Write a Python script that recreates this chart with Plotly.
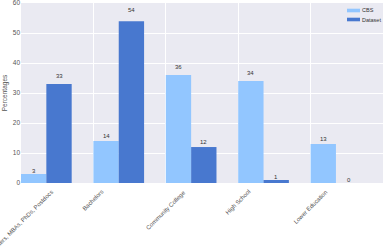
import plotly.graph_objects as go
import numpy as np

categories = ["Masters, MBAs, PhDs, Postdocs", "Bachelors", "Community College", "High School", "Lower Education"]
cbs = [3, 14, 36, 34, 13]
dataset = [33, 54, 12, 1, 0]
y_ticks = [0, 10, 20, 30, 40, 50, 60]
series_names = ["CBS", "Dataset"]
series_colors = ["#92C6FF", "#4878CF"]

x = np.arange(len(categories))
w = 0.35
font = "Liberation Sans, Arial, sans-serif"

fig = go.Figure()
fig.add_trace(go.Bar(x=x, y=cbs, width=w, offset=0, name=series_names[0],
                     marker=dict(color=series_colors[0], line=dict(width=0))))
fig.add_trace(go.Bar(x=x, y=dataset, width=w, offset=w, name=series_names[1],
                     marker=dict(color=series_colors[1], line=dict(width=0))))

for k, vals in enumerate([cbs, dataset]):
    for xi, v in zip(x, vals):
        fig.add_annotation(x=xi + (k + 0.5) * w, y=v * 1.05, text=str(v), showarrow=False,
                           yshift=3, font=dict(size=6, color="#333333", family=font))

# rotated category labels, centred on the tick (like matplotlib rotation=45, ha='center')
for xi, c in zip(x, categories):
    fig.add_annotation(x=xi, xref="x", y=0, yref="paper", text=c, showarrow=False,
                       textangle=-45, xanchor="center", yanchor="top", yshift=-3,
                       font=dict(size=6, color="#555555", family=font))

# compact legend (patch + label) in paper coordinates
L, T = 21, 3
PW, PH = 362, 180
def px_x(p):
    return (p - L) / PW
def px_y(p):
    return (T + PH - p) / PH
for k, (nm, col) in enumerate(zip(series_names, series_colors)):
    yc = 10.5 + 9 * k
    fig.add_shape(type="rect", xref="paper", yref="paper",
                  x0=px_x(347), x1=px_x(360), y0=px_y(yc + 1.8), y1=px_y(yc - 1.8),
                  fillcolor=col, line=dict(width=0))
    fig.add_annotation(xref="paper", yref="paper", x=px_x(361), y=px_y(yc), text=nm,
                       showarrow=False, xanchor="left", yanchor="middle", borderpad=0,
                       font=dict(size=5.5, color="#333333", family=font))

fig.update_layout(
    width=387, height=251,
    margin=dict(l=L, r=387 - L - PW, t=T, b=251 - T - PH),
    plot_bgcolor="#EAEAF2", paper_bgcolor="white",
    barmode="group",
    font=dict(family=font, size=6, color="#555555"),
    showlegend=False,
    xaxis=dict(range=[0, 5.0], tickmode="array", tickvals=list(x), ticktext=categories,
               showticklabels=False, showgrid=True, gridcolor="white", gridwidth=1,
               zeroline=False, ticks="", automargin=False),
    yaxis=dict(range=[0, 60.05], tickmode="array", tickvals=y_ticks,
               showgrid=True, gridcolor="white", gridwidth=1, zeroline=False,
               ticks="", automargin=False, ticklabeloverflow="allow",
               title=dict(text="Percentages", font=dict(size=6.5, color="#555555"), standoff=4),
               tickfont=dict(size=6.5, color="#555555")),
)

fig.write_html("out.html")
